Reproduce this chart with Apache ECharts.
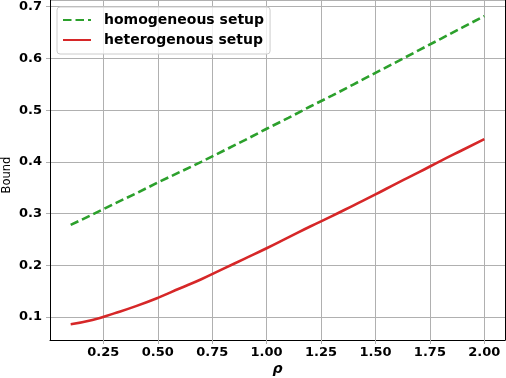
<!DOCTYPE html>
<html>
<head>
<meta charset="utf-8">
<script src="https://cdn.jsdelivr.net/npm/echarts@6/dist/echarts.min.js"></script>
<style>
html,body{margin:0;padding:0;background:#fff;}
#chart{width:506px;height:378px;}
</style>
</head>
<body>
<div id="chart"></div>
<script>
const rho = [0.1,0.2,0.3,0.4,0.5,0.6,0.7,0.8,0.9,1.0,1.1,1.2,1.3,1.4,1.5,1.6,1.7,1.8,1.9,2.0];
const homogeneous = [0.278,0.298,0.319,0.339,0.360,0.380,0.400,0.421,0.442,0.464,0.485,0.507,0.528,0.550,0.572,0.594,0.616,0.638,0.660,0.682];
const heterogenous = [0.086,0.094,0.107,0.121,0.137,0.155,0.173,0.193,0.213,0.233,0.254,0.275,0.295,0.316,0.337,0.359,0.380,0.402,0.423,0.444];
const seriesNames = ['homogeneous setup','heterogenous setup'];

const FONT = 'DejaVu Sans';
const chart = echarts.init(document.getElementById('chart'), null, {renderer:'canvas'});
chart.setOption({
  animation:false,
  backgroundColor:'#ffffff',
  grid:{left:50,right:1,top:0,bottom:38,containLabel:false,outerBoundsMode:'none'},
  legend:{
    orient:'vertical', left:57, top:7,
    padding:[6,6,7,5],
    itemWidth:28, itemHeight:14, itemGap:6,
    backgroundColor:'rgba(255,255,255,0.8)',
    borderColor:'#cccccc', borderWidth:1, borderRadius:3,
    itemStyle:{color:'transparent',borderWidth:0,opacity:0},
    textStyle:{fontFamily:FONT,fontWeight:'bold',fontSize:14,color:'#000',lineHeight:14,padding:[0,0,0,8]},
    data:seriesNames
  },
  xAxis:{
    type:'value', min:0.005, max:2.095, minInterval:0.25, maxInterval:0.25,
    name:'ρ', nameLocation:'middle', nameGap:22, nameMoveOverlap:false,
    nameTextStyle:{fontFamily:FONT,fontSize:14,fontWeight:'bold',fontStyle:'italic',color:'#000'},
    axisLine:{show:true,onZero:false,lineStyle:{color:'#000',width:1}},
    axisTick:{show:true,length:4,lineStyle:{color:'#b0b0b0'}},
    axisLabel:{fontFamily:FONT,fontSize:13,fontWeight:'bold',color:'#000',margin:6,showMinLabel:false,showMaxLabel:false,
      formatter:v=>v.toFixed(2)},
    splitLine:{show:true,lineStyle:{color:'#b0b0b0',width:1}}
  },
  yAxis:[{
    type:'value', min:0.0555, max:0.713, minInterval:0.1, maxInterval:0.1,
    name:'Bound', nameLocation:'middle', nameGap:37, nameMoveOverlap:false,
    nameTextStyle:{fontFamily:FONT,fontSize:11.5,color:'#000',padding:[0,10,0,0]},
    axisLine:{show:true,onZero:false,lineStyle:{color:'#000',width:1}},
    axisTick:{show:true,length:4,lineStyle:{color:'#b0b0b0'}},
    axisLabel:{fontFamily:FONT,fontSize:13,fontWeight:'bold',color:'#000',margin:8,showMinLabel:false,showMaxLabel:false,
      formatter:v=>v.toFixed(1)},
    splitLine:{show:true,lineStyle:{color:'#b0b0b0',width:1}}
  },{
    type:'value', position:'right', min:0.0555, max:0.713,
    axisLine:{show:true,onZero:false,lineStyle:{color:'#000',width:1}},
    axisTick:{show:false}, axisLabel:{show:false}, splitLine:{show:false}
  }],
  series:[{
    name:seriesNames[0], type:'line', symbol:'none', smooth:false,
    data:rho.map((x,i)=>[x,homogeneous[i]]),
    lineStyle:{color:'#2ca02c',width:2.6,type:[8.5,4],cap:'butt'},
    itemStyle:{color:'#2ca02c'}
  },{
    name:seriesNames[1], type:'line', symbol:'none', smooth:true,
    data:rho.map((x,i)=>[x,heterogenous[i]]),
    lineStyle:{color:'#d62728',width:2.6},
    itemStyle:{color:'#d62728'}
  }]
});
</script>
</body>
</html>
